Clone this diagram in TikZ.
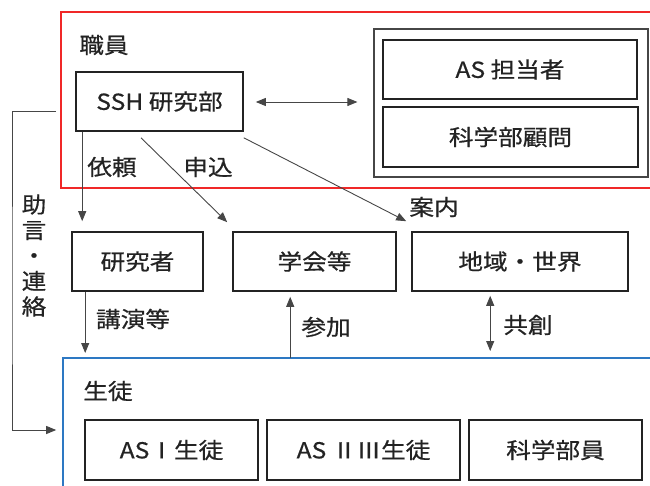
\documentclass[tikz,border=0pt]{standalone}
\usepackage{fontspec}
\setmainfont{Noto Sans CJK JP}[FakeStretch=1.12, FakeBold=0.6]
\usetikzlibrary{arrows.meta,calc}
\definecolor{redf}{RGB}{240,40,40}
\definecolor{bluef}{RGB}{45,120,195}
\definecolor{ink}{RGB}{35,35,35}
\definecolor{lineg}{RGB}{70,70,70}
\begin{document}
\begin{tikzpicture}[x=1pt,y=-1pt,
  every node/.style={font=\fontsize{22}{25.5}\selectfont, text=ink, inner sep=0pt},
  box/.style={draw=ink, line width=1.6pt, minimum height=59pt},
  outerbox/.style={draw=lineg, line width=1.2pt},
  lbl/.style={},
  conn/.style={draw=lineg, line width=0.9pt, -{Triangle[length=10pt,width=8pt]}},
  dconn/.style={draw=lineg, line width=0.9pt, {Triangle[length=10pt,width=8pt]}-{Triangle[length=10pt,width=8pt]}},
  frame/.style={line width=1.8pt}]
\useasboundingbox (0,0) rectangle (650,486);

% group frames
\draw[frame, draw=redf] (652,12) -- (61,12) -- (61,188) -- (652,188);
\draw[frame, draw=bluef] (652,358) -- (63,358) -- (63,488);
\coordinate (bluetop) at (63,358);

% staff group
\node[lbl] (shokuin) at (104,45) {職員};
\node[box, minimum width=167pt] (ssh) at (159.5,101.5) {SSH 研究部};
\node[outerbox, minimum width=274pt, minimum height=148pt] (outer) at (511,103) {};
\node[box, minimum width=254pt] (astan) at (510,69.5) {AS 担当者};
\node[box, minimum width=255pt, minimum height=60pt] (komon) at (510.5,137) {科学部顧問};

% middle row
\node[box, minimum width=131pt] (kenkyu) at (137.5,261.5) {研究者};
\node[box, minimum width=163pt] (gakkai) at (314.5,261.5) {学会等};
\node[box, minimum width=216pt] (chiiki) at (520,261.5) {地域・世界};

% students
\node[lbl] (seito) at (108,391) {生徒};
\node[box, minimum width=173pt, minimum height=60pt] (as1) at (171.5,450) {ASⅠ生徒};
\node[box, minimum width=193pt, minimum height=60pt] (as23) at (363.5,450) {AS ⅡⅢ生徒};
\node[box, minimum width=173pt, minimum height=60pt] (kagaku) at (555.5,450) {科学部員};

% connectors
\draw[dconn] ([xshift=12pt]ssh.east |- 0,102) -- ([xshift=-16pt]outer.west |- 0,102);

\coordinate (a1) at ([xshift=7pt]ssh.south west);
\draw[conn] (a1) -- ($(a1 |- kenkyu.north)+(0,-10)$);
\node[lbl] (irai) at (112,167) {依頼};

\draw[conn] ([xshift=-18.5pt,yshift=-6pt]ssh.south) -- ([xshift=-5pt,yshift=9pt]gakkai.north west);
\node[lbl] (moushikomi) at (208,167) {申込};

\draw[conn] ([yshift=-6pt]ssh.south east) -- ([xshift=-5pt,yshift=10pt]chiiki.north west);
\node[lbl] (annai) at (434,207) {案内};

\coordinate (k1) at ([xshift=14pt]kenkyu.south west);
\draw[conn] (k1) -- ($(k1 |- bluetop)+(0,-5)$);
\node[lbl] (kouen) at (133,319) {講演等};

\coordinate (g1) at ([xshift=58pt]gakkai.south west);
\draw[conn] (g1 |- bluetop) -- ($(g1)+(0,5)$);
\node[lbl] (sanka) at (326,327) {参加};

\coordinate (c1) at ([xshift=79pt]chiiki.south west);
\draw[dconn] ($(c1)+(0,4)$) -- ($(c1 |- bluetop)+(0,-7)$);
\node[lbl] (kyousou) at (528,325) {共創};

\draw[conn] ([xshift=-19pt,yshift=-10pt]ssh.west) -| (12,300) |- ([xshift=-28pt,yshift=20pt]as1.west);
\node[lbl, align=center] (jogen) at (34,255.5) {助\\言\\・\\連\\絡};
\end{tikzpicture}
\end{document}
